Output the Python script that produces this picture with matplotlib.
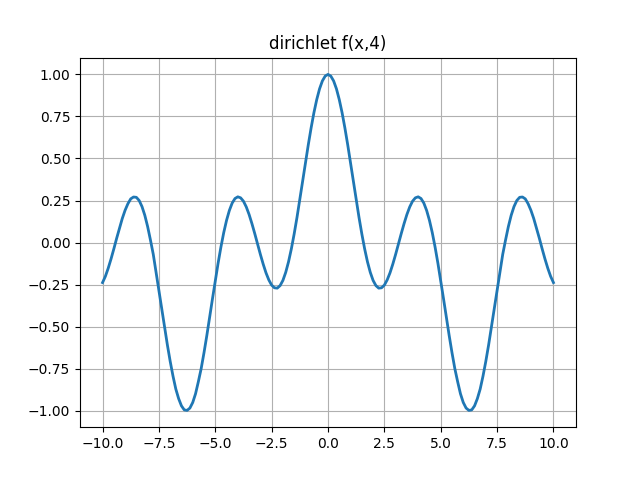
"""
Dirichlet kernel plot, f(x, 4), sampled values read off the reference.
"""

import numpy as np
import matplotlib
matplotlib.use("Agg")
import matplotlib.pyplot as plt

TITLE = "dirichlet f(x,4)"
X_MIN, X_MAX = -10.0, 10.0

# sampled every 0.125 from -10 to 10
y_vals = [
    -0.238, -0.201, -0.153, -0.098, -0.038, 0.025, 0.085, 0.143, 0.192, 0.231,
    0.260, 0.271, 0.269, 0.250, 0.214, 0.162, 0.095, 0.015, -0.070, -0.178,
    -0.284, -0.394, -0.501, -0.608, -0.706, -0.794, -0.871, -0.928, -0.971, -0.995,
    -0.998, -0.984, -0.951, -0.899, -0.827, -0.749, -0.655, -0.553, -0.446, -0.335,
    -0.227, -0.123, -0.027, 0.059, 0.132, 0.191, 0.235, 0.262, 0.272, 0.266,
    0.246, 0.212, 0.167, 0.113, 0.054, -0.008, -0.070, -0.128, -0.180, -0.222,
    -0.253, -0.269, -0.271, -0.256, -0.225, -0.177, -0.114, -0.037, 0.052, 0.150,
    0.256, 0.365, 0.474, 0.581, 0.681, 0.772, 0.850, 0.914, 0.961, 0.990,
    1.000,
    0.990, 0.961, 0.914, 0.850, 0.772, 0.681, 0.581, 0.474, 0.365, 0.256,
    0.150, 0.052, -0.037, -0.114, -0.177, -0.225, -0.256, -0.271, -0.269, -0.253,
    -0.222, -0.180, -0.128, -0.070, -0.008, 0.054, 0.113, 0.167, 0.212, 0.246,
    0.266, 0.272, 0.262, 0.235, 0.191, 0.132, 0.059, -0.027, -0.123, -0.227,
    -0.335, -0.446, -0.553, -0.655, -0.749, -0.827, -0.899, -0.951, -0.984, -0.998,
    -0.995, -0.971, -0.928, -0.871, -0.794, -0.706, -0.608, -0.501, -0.394, -0.284,
    -0.178, -0.070, 0.015, 0.095, 0.162, 0.214, 0.250, 0.269, 0.271, 0.260,
    0.231, 0.192, 0.143, 0.085, 0.025, -0.038, -0.098, -0.153, -0.201, -0.238,
]

x_vals = np.linspace(X_MIN, X_MAX, len(y_vals))

fig, ax = plt.subplots(figsize=(6.4, 4.8), dpi=100)
ax.plot(x_vals, y_vals, linewidth=2)
ax.set_title(TITLE)
ax.grid(True)
fig.savefig("out.png", dpi=100)
